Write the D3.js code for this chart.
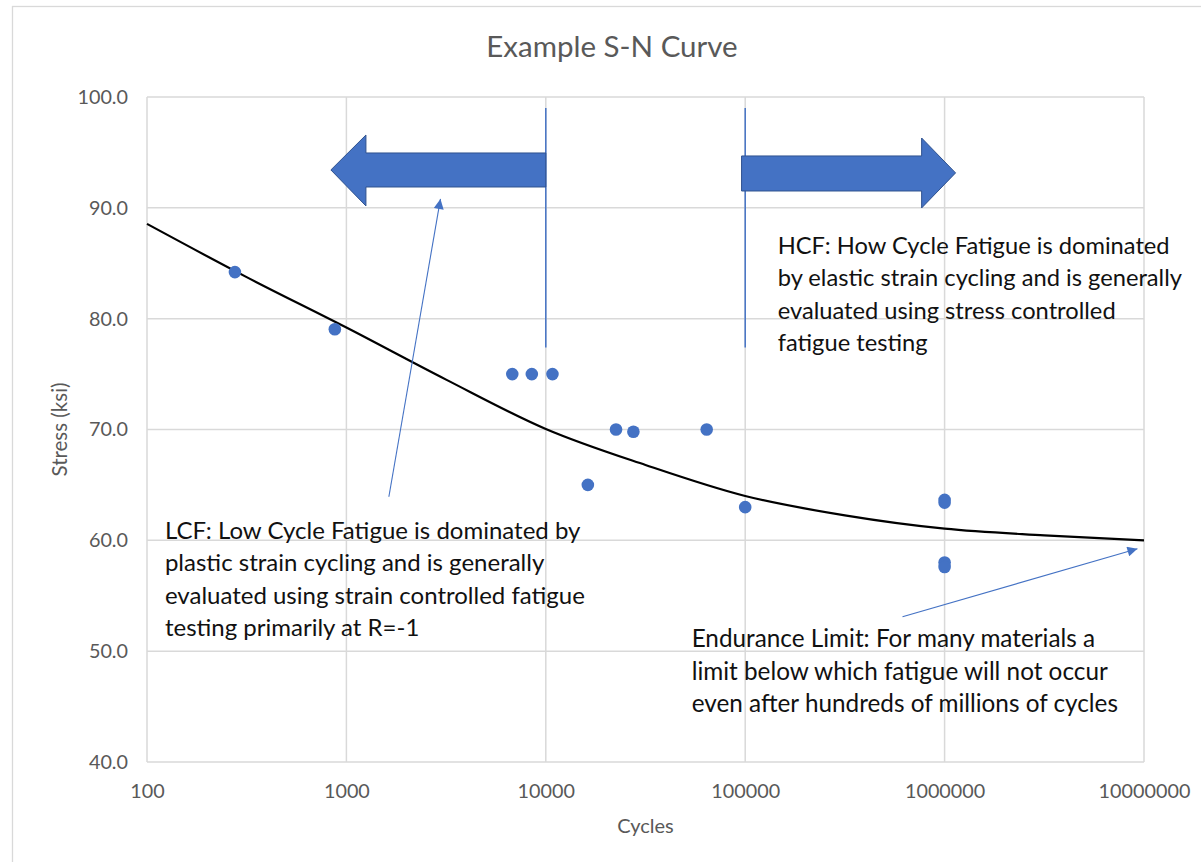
<!DOCTYPE html>
<html>
<head>
<meta charset="utf-8">
<script src="https://cdn.jsdelivr.net/npm/d3@7/dist/d3.min.js"></script>
<style>
  html, body { margin: 0; padding: 0; background: #fff; }
  svg { display: block; font-family: Lato, "Open Sans", sans-serif; }
</style>
</head>
<body>
<svg id="chart" width="1201" height="862"></svg>
<script>
// Test results: cycles to failure and stress amplitude (ksi)
const testCycles = [276, 875, 6790, 8510, 10800, 16250, 22500, 27500, 64100, 100000, 1000000, 1000000, 1000000, 1000000];
const testStress = [84.2, 79.05, 75.0, 75.0, 75.0, 65.0, 70.0, 69.8, 70.0, 63.0, 63.65, 63.4, 58.0, 57.6];

// Mean S-N curve
const curveCycles = [100, 316, 1000, 3162, 10000, 31623, 100000, 316228, 1000000, 3162278, 10000000];
const curveStress = [88.55, 83.75, 79.2, 74.5, 70.05, 66.8, 64.0, 62.25, 61.05, 60.45, 60.0];

// Axis ticks
const xTicks = [100, 1000, 10000, 100000, 1000000, 10000000];
const xTickLabels = ["100", "1000", "10000", "100000", "1000000", "10000000"];
const yTicks = [40, 50, 60, 70, 80, 90, 100];
const yTickLabels = ["40.0", "50.0", "60.0", "70.0", "80.0", "90.0", "100.0"];

// Regime boundaries (cycles)
const boundaryCycles = [10000, 100000];

// Notes
const lcfNote = ["LCF: Low Cycle Fatigue is dominated by", "plastic strain cycling and is generally", "evaluated using strain controlled fatigue", "testing primarily at R=-1"];
const hcfNote = ["HCF: How Cycle Fatigue is dominated", "by elastic strain cycling and is generally", "evaluated using stress controlled", "fatigue testing"];
const enduranceNote = ["Endurance Limit: For many materials a", "limit below which fatigue will not occur", "even after hundreds of millions of cycles"];

const W = 1201, H = 862;
const margin = { left: 147, right: W - 1144, top: 97, bottom: H - 762 };
const svg = d3.select("#chart");
const blue = "#4472C4", blueDark = "#2F528F", grid = "#d9d9d9", axisText = "#595959";

const x = d3.scaleLog().domain([100, 10000000]).range([margin.left, W - margin.right]);
const y = d3.scaleLinear().domain([40, 100]).range([H - margin.bottom, margin.top]);

// Outer chart frame
svg.append("rect").attr("x", 12.5).attr("y", 6.5).attr("width", 1220).attr("height", 900)
  .attr("fill", "#fff").attr("stroke", grid).attr("stroke-width", 1.3);

// Title
svg.append("text").attr("x", 612).attr("y", 57).attr("text-anchor", "middle")
  .attr("font-size", 29.5).attr("fill", axisText).text("Example S-N Curve");

// Gridlines
const g = svg.append("g");
g.selectAll(".hgrid").data(yTicks).join("line").attr("class", "hgrid")
  .attr("x1", x(100)).attr("x2", x(10000000))
  .attr("y1", d => y(d)).attr("y2", d => y(d))
  .attr("stroke", grid).attr("stroke-width", 1.5);
g.selectAll(".vgrid").data(xTicks).join("line").attr("class", "vgrid")
  .attr("x1", d => x(d)).attr("x2", d => x(d))
  .attr("y1", y(100)).attr("y2", y(40))
  .attr("stroke", grid).attr("stroke-width", 1.5);

// Axes via d3 axis generators, styled to show labels only
const xAxis = d3.axisBottom(x).tickValues(xTicks).tickFormat((d, i) => xTickLabels[i]).tickSize(0).tickPadding(22);
svg.append("g").attr("transform", `translate(0,${y(40)})`).call(xAxis)
  .call(s => s.select(".domain").remove())
  .selectAll("text").attr("font-size", 19.8).attr("fill", axisText).attr("font-family", "Lato, sans-serif");

const yAxis = d3.axisLeft(y).tickValues(yTicks).tickFormat((d, i) => yTickLabels[i]).tickSize(0).tickPadding(19);
svg.append("g").attr("transform", `translate(${x(100)},0)`).call(yAxis)
  .call(s => s.select(".domain").remove())
  .selectAll("text").attr("font-size", 19.8).attr("fill", axisText).attr("font-family", "Lato, sans-serif");

// Axis titles
svg.append("text").attr("x", (x(100) + x(10000000)) / 2).attr("y", 833).attr("text-anchor", "middle")
  .attr("font-size", 20).attr("fill", axisText).text("Cycles");
svg.append("text").attr("transform", `translate(67,${(y(40) + y(100)) / 2}) rotate(-90)`)
  .attr("text-anchor", "middle").attr("font-size", 20.5).attr("fill", axisText).text("Stress (ksi)");

// Regime boundary lines
svg.selectAll(".boundary").data(boundaryCycles).join("line").attr("class", "boundary")
  .attr("x1", d => x(d)).attr("x2", d => x(d))
  .attr("y1", y(99.0)).attr("y2", y(77.4))
  .attr("stroke", blue).attr("stroke-width", 1.5);

// Block arrows marking the LCF (left) and HCF (right) regimes
function blockArrow(pts) {
  return d3.line()(pts.map(p => [x(p[0]), y(p[1])])) + "Z";
}
svg.append("path").attr("d", blockArrow([
  [836, 93.42], [1253, 96.57], [1253, 94.95], [10000, 94.95],
  [10000, 91.88], [1253, 91.88], [1253, 90.17]
])).attr("fill", blue).attr("stroke", blueDark).attr("stroke-width", 1);
svg.append("path").attr("d", blockArrow([
  [95900, 94.68], [767000, 94.68], [767000, 96.30], [1135000, 93.15],
  [767000, 89.99], [767000, 91.52], [95900, 91.52]
])).attr("fill", blue).attr("stroke", blueDark).attr("stroke-width", 1);

// S-N curve
const line = d3.line().x((d, i) => x(curveCycles[i])).y((d, i) => y(curveStress[i])).curve(d3.curveMonotoneX);
svg.append("path").datum(curveCycles).attr("d", line)
  .attr("fill", "none").attr("stroke", "#000").attr("stroke-width", 2.2);

// Test points
svg.selectAll(".pt").data(testCycles).join("circle").attr("class", "pt")
  .attr("cx", d => x(d)).attr("cy", (d, i) => y(testStress[i])).attr("r", 6.3)
  .attr("fill", blue);

// Thin callout arrows
const defs = svg.append("defs");
defs.append("marker").attr("id", "tri").attr("viewBox", "0 0 10 10")
  .attr("refX", 10).attr("refY", 5).attr("markerWidth", 13).attr("markerHeight", 10)
  .attr("markerUnits", "userSpaceOnUse").attr("orient", "auto")
  .append("path").attr("d", "M0,0 L10,5 L0,10 Z").attr("fill", blue);
const callouts = [
  { from: [1633, 63.93], to: [2963, 90.8] },
  { from: [615000, 53.1], to: [9270000, 59.24] }
];
svg.selectAll(".callout").data(callouts).join("line").attr("class", "callout")
  .attr("x1", d => x(d.from[0])).attr("y1", d => y(d.from[1]))
  .attr("x2", d => x(d.to[0])).attr("y2", d => y(d.to[1]))
  .attr("stroke", blue).attr("stroke-width", 1.1).attr("marker-end", "url(#tri)");

// Note text blocks
function note(lines, cx, sy, size) {
  const t = svg.append("text").attr("x", x(cx)).attr("y", y(sy))
    .attr("font-size", size).attr("fill", "#111");
  lines.forEach((l, i) => t.append("tspan").attr("x", x(cx)).attr("dy", i === 0 ? 0 : 32.5).text(l));
}
note(lcfNote, 123, 60.14, 24);
note(hcfNote, 145500, 85.84, 23.7);
note(enduranceNote, 53900, 50.34, 24.3);
</script>
</body>
</html>
